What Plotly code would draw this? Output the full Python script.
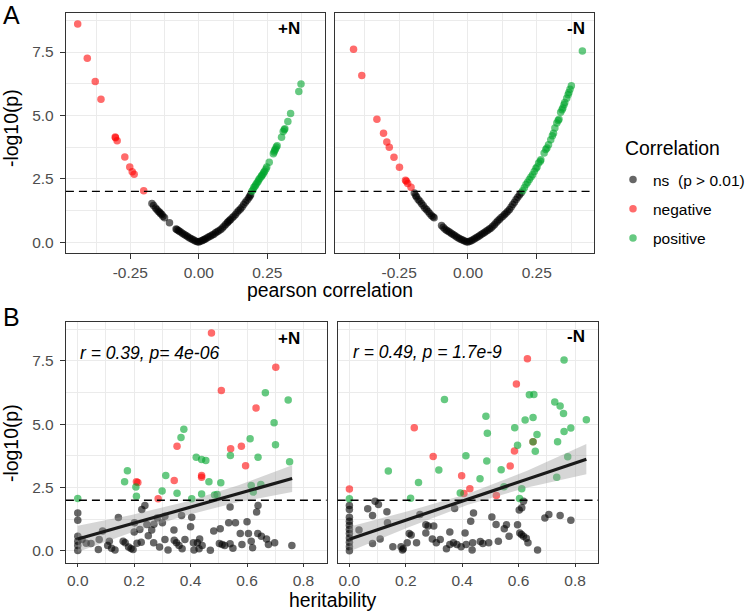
import plotly.graph_objects as go

W, H = 750, 613
FONT = "Liberation Sans, Arial, Helvetica, sans-serif"

# ---------------- Panel A, +N : pearson correlation vs -log10(p) ----------------
A_pN_ns_r = [-0.171, -0.165, -0.158, -0.153, -0.148, -0.143, -0.140, -0.135, -0.131, -0.125,
             -0.107, -0.083, -0.080, -0.075, -0.071, -0.065, -0.059, -0.053, -0.047, -0.041,
             -0.035, -0.029, -0.023, -0.017, -0.011, -0.005, 0.000,
             0.005, 0.011, 0.016, 0.020, 0.025, 0.031, 0.037, 0.043, 0.049, 0.055, 0.061,
             0.067, 0.073, 0.080, 0.086, 0.092, 0.098, 0.104, 0.107, 0.112, 0.116, 0.122,
             0.128, 0.134, 0.140, 0.146, 0.152, 0.158, 0.164, 0.170, 0.176, 0.182, 0.186, 0.189]
A_pN_ns_y = [1.52, 1.44, 1.35, 1.29, 1.22, 1.18, 1.13, 1.09, 1.02, 0.96,
             0.76, 0.52, 0.50, 0.46, 0.43, 0.39, 0.34, 0.30, 0.26, 0.22,
             0.17, 0.14, 0.10, 0.07, 0.03, 0.01, 0.00,
             0.03, 0.05, 0.08, 0.10, 0.13, 0.17, 0.21, 0.24, 0.28, 0.31, 0.37,
             0.41, 0.45, 0.50, 0.56, 0.63, 0.69, 0.76, 0.80, 0.85, 0.89, 0.96,
             1.02, 1.09, 1.18, 1.25, 1.31, 1.39, 1.48, 1.57, 1.65, 1.74, 1.81, 1.87]
A_pN_neg_r = [-0.442, -0.407, -0.378, -0.357, -0.305, -0.304, -0.298, -0.270, -0.252, -0.243, -0.236, -0.201]
A_pN_neg_y = [8.61, 7.25, 6.34, 5.64, 4.15, 4.12, 4.00, 3.36, 2.96, 2.78, 2.68, 2.03]
A_pN_pos_r = [0.194, 0.198, 0.201, 0.205, 0.208, 0.212, 0.216, 0.219, 0.223, 0.228, 0.230,
              0.234, 0.237, 0.240, 0.245, 0.248, 0.257, 0.272, 0.275, 0.277, 0.280, 0.283,
              0.286, 0.302, 0.308, 0.312, 0.314, 0.325, 0.335, 0.365, 0.373]
A_pN_pos_y = [2.01, 2.07, 2.15, 2.20, 2.26, 2.33, 2.39, 2.46, 2.52, 2.59, 2.63,
              2.68, 2.75, 2.80, 2.88, 2.96, 3.15, 3.49, 3.56, 3.62, 3.67, 3.75,
              3.80, 4.14, 4.36, 4.43, 4.47, 4.76, 5.07, 5.94, 6.24]

# ---------------- Panel A, -N ----------------
A_mN_ns_r = [-0.195, -0.190, -0.187, -0.181, -0.175, -0.169, -0.163, -0.157, -0.151, -0.145,
             -0.139, -0.133, -0.127, -0.123, -0.096, -0.090, -0.084, -0.078, -0.072, -0.066,
             -0.060, -0.054, -0.048, -0.042, -0.036, -0.030, -0.024, -0.018, -0.012, -0.006, 0.000,
             0.006, 0.012, 0.018, 0.024, 0.030, 0.036, 0.042, 0.048, 0.054, 0.060, 0.066,
             0.072, 0.078, 0.084, 0.090, 0.096, 0.102, 0.108, 0.114, 0.120, 0.127, 0.133,
             0.139, 0.145, 0.151, 0.157, 0.163, 0.169, 0.175, 0.181, 0.187, 0.193]
A_mN_ns_y = [1.94, 1.84, 1.78, 1.68, 1.61, 1.52, 1.44, 1.35, 1.29, 1.21,
             1.13, 1.05, 1.00, 0.96, 0.66, 0.59, 0.52, 0.47, 0.43, 0.39,
             0.34, 0.30, 0.26, 0.21, 0.17, 0.13, 0.10, 0.07, 0.04, 0.01, 0.00,
             0.03, 0.05, 0.09, 0.13, 0.17, 0.21, 0.25, 0.30, 0.34, 0.38, 0.43,
             0.47, 0.52, 0.56, 0.63, 0.68, 0.76, 0.83, 0.89, 0.96, 1.02, 1.09,
             1.15, 1.22, 1.29, 1.39, 1.48, 1.57, 1.68, 1.77, 1.86, 1.94]
A_mN_neg_r = [-0.416, -0.386, -0.331, -0.307, -0.295, -0.286, -0.269, -0.249, -0.227, -0.224, -0.219, -0.207]
A_mN_neg_y = [7.61, 6.57, 4.85, 4.30, 3.95, 3.74, 3.35, 2.95, 2.44, 2.40, 2.31, 2.16]
A_mN_pos_r = [0.199, 0.205, 0.211, 0.217, 0.223, 0.229, 0.235, 0.241, 0.247, 0.251, 0.257,
              0.263, 0.265, 0.277, 0.283, 0.287, 0.293, 0.301, 0.307, 0.311, 0.316, 0.323,
              0.328, 0.331, 0.337, 0.342, 0.345, 0.349, 0.352, 0.359, 0.364, 0.367, 0.371,
              0.376, 0.416]
A_mN_pos_y = [2.03, 2.14, 2.27, 2.36, 2.47, 2.57, 2.66, 2.79, 2.90, 2.96, 3.12,
              3.19, 3.25, 3.52, 3.65, 3.71, 3.84, 4.04, 4.20, 4.30, 4.50, 4.70,
              4.80, 4.85, 5.12, 5.22, 5.29, 5.42, 5.51, 5.68, 5.81, 5.90, 6.03,
              6.17, 7.54]

# ---------------- Panel B, +N : heritability vs -log10(p) ----------------
B_pN_ns_h = [0.0, 0.0, 0.0, 0.0, 0.0, 0.0, 0.015, 0.047, 0.073, 0.076, 0.088, 0.106, 0.112,
             0.132, 0.144, 0.161, 0.168, 0.189, 0.196, 0.200, 0.201, 0.220, 0.225, 0.227,
             0.238, 0.245, 0.262, 0.269, 0.282, 0.300, 0.309, 0.309, 0.320, 0.341, 0.342,
             0.350, 0.359, 0.368, 0.400, 0.404, 0.410, 0.424, 0.432, 0.441, 0.412, 0.482,
             0.505, 0.512, 0.521, 0.535, 0.540, 0.540, 0.559, 0.576, 0.582, 0.600, 0.605,
             0.615, 0.634, 0.639, 0.638, 0.651, 0.669, 0.676, 0.698, 0.759, 0.502,
             0.030, 0.120, 0.180, 0.210, 0.250, 0.290, 0.370, 0.430, 0.470, 0.550, 0.620,
             0.270, 0.380]
B_pN_ns_y = [1.50, 1.21, 0.58, 0.38, 0.21, 0.01, 0.45, 0.29, 0.05, 0.45, 0.78, 0.21, 0.38,
             0.03, 1.32, 0.38, 0.32, 0.09, 0.05, 0.74, 1.11, 0.84, 0.34, 1.63,
             1.79, 1.04, 0.82, 0.32, 1.30, 1.11, 1.37, 0.45, 0.03, 0.82, 0.42,
             0.32, 0.21, 1.40, 0.95, 1.33, 0.32, 0.32, 0.47, 0.21, 0.03, 0.78,
             0.87, 0.25, 0.21, 1.11, 1.73, 0.28, 1.11, 0.69, 0.25, 1.15, 0.69,
             0.38, 1.53, 1.79, 0.69, 0.58, 0.47, 0.25, 0.32, 0.21, 0.29,
             0.30, 0.10, 0.15, 0.30, 0.60, 0.15, 0.08, 0.08, 0.02, 0.10, 0.12,
             1.05, 0.45]
B_pN_neg_h = [0.474, 0.702, 0.509, 0.632, 0.352, 0.542, 0.580, 0.595, 0.208, 0.213, 0.439, 0.439, 0.342, 0.285]
B_pN_neg_y = [8.61, 7.25, 6.33, 5.64, 4.13, 4.03, 4.13, 3.36, 2.73, 2.70, 2.98, 2.91, 2.78, 2.06]
B_pN_pos_h = [0.000, 0.176, 0.166, 0.206, 0.208, 0.312, 0.299, 0.352, 0.366, 0.376, 0.420,
              0.439, 0.454, 0.404, 0.439, 0.465, 0.485, 0.494, 0.507, 0.541, 0.611, 0.639,
              0.615, 0.622, 0.649, 0.665, 0.696, 0.701, 0.746, 0.751]
B_pN_pos_y = [2.07, 3.16, 2.73, 2.52, 2.16, 2.98, 2.36, 2.28, 4.48, 4.80, 3.70,
              3.61, 3.57, 2.06, 2.25, 2.73, 2.21, 2.23, 2.69, 3.77, 4.43, 3.70,
              2.58, 2.32, 2.62, 6.25, 5.06, 4.19, 5.96, 3.52]
# linear fit with confidence band
B_pN_fit_h = [0.00, 0.19, 0.38, 0.57, 0.76]
B_pN_fit_y = [0.47, 1.07, 1.66, 2.26, 2.86]
B_pN_fit_lo = [-0.05, 0.72, 1.39, 1.93, 2.32]
B_pN_fit_hi = [0.99, 1.42, 1.93, 2.59, 3.38]

# ---------------- Panel B, -N ----------------
B_mN_ns_h = [0.0, 0.0, 0.0, 0.0, 0.0, 0.0, 0.0, 0.0, 0.0, 0.0, 0.0,
             0.034, 0.065, 0.082, 0.082, 0.091, 0.103, 0.109, 0.133, 0.135, 0.154,
             0.183, 0.188, 0.191, 0.205, 0.212, 0.219, 0.238, 0.250, 0.271, 0.279, 0.271,
             0.294, 0.308, 0.322, 0.299, 0.344, 0.356, 0.369, 0.381, 0.356, 0.373, 0.396,
             0.410, 0.414, 0.430, 0.440, 0.435, 0.437, 0.464, 0.473, 0.494, 0.505, 0.520,
             0.528, 0.549, 0.557, 0.566, 0.596, 0.602, 0.611, 0.617, 0.604, 0.610, 0.617,
             0.633, 0.627, 0.667, 0.693, 0.707, 0.747, 0.785]
B_mN_ns_y = [1.79, 1.63, 1.33, 1.17, 1.01, 0.84, 0.69, 0.51, 0.34, 0.16, 0.00,
             0.82, 1.66, 1.40, 0.29, 1.96, 1.83, 0.47, 1.54, 1.11, 0.16,
             0.16, 0.03, 0.08, 0.32, 0.69, 0.63, 0.32, 1.44, 1.03, 0.98, 0.71,
             0.47, 0.32, 0.45, 0.98, 0.08, 0.25, 0.32, 0.25, 0.74, 1.67, 0.16,
             0.71, 0.25, 1.17, 1.50, 0.03, 0.32, 0.37, 0.29, 0.32, 1.34, 1.04,
             0.38, 0.87, 1.03, 0.58, 1.03, 1.61, 1.70, 1.96, 0.71, 0.65, 0.58,
             0.32, 0.50, 0.03, 1.30, 1.44, 1.40, 1.21]
B_mN_neg_h = [0.000, 0.631, 0.592, 0.230, 0.297, 0.398, 0.427, 0.406, 0.521, 0.570, 0.585, 0.651]
B_mN_neg_y = [2.44, 7.59, 6.59, 4.86, 3.73, 2.97, 2.45, 2.27, 2.19, 3.35, 3.94, 4.31]
B_mN_pos_h = [0.000, 0.138, 0.245, 0.217, 0.317, 0.337, 0.393, 0.413, 0.463, 0.484, 0.489,
              0.487, 0.538, 0.548, 0.586, 0.596, 0.611, 0.603, 0.623, 0.638, 0.654, 0.651,
              0.659, 0.665, 0.728, 0.747, 0.759, 0.761, 0.761, 0.785, 0.738, 0.774, 0.735,
              0.840, 0.651]
B_mN_pos_y = [2.06, 3.15, 2.70, 2.08, 3.19, 5.98, 2.29, 3.76, 2.85, 5.32, 4.65,
              3.55, 3.20, 2.53, 4.86, 4.17, 2.45, 2.07, 5.17, 6.17, 6.18, 5.27,
              3.93, 4.60, 5.88, 5.72, 5.43, 7.54, 4.71, 4.85, 4.31, 3.72, 2.91,
              5.18, 4.31]
B_mN_fit_h = [0.00, 0.21, 0.42, 0.63, 0.84]
B_mN_fit_y = [0.46, 1.25, 2.04, 2.83, 3.62]
B_mN_fit_lo = [-0.03, 0.93, 1.82, 2.50, 3.03]
B_mN_fit_hi = [0.95, 1.57, 2.26, 3.16, 4.22]

# ---------------- labels ----------------
categories = ["ns", "negative", "positive"]
legend_labels = ["ns  (p > 0.01)", "negative", "positive"]
legend_title = "Correlation"
A_xticks = [-0.25, 0.0, 0.25]
A_xticktext = ["-0.25", "0.00", "0.25"]
B_xticks = [0.0, 0.2, 0.4, 0.6, 0.8]
B_xticktext = ["0.0", "0.2", "0.4", "0.6", "0.8"]
yticks = [0.0, 2.5, 5.0, 7.5]
yticktext = ["0.0", "2.5", "5.0", "7.5"]
threshold = 2.0
facet_labels = ["+N", "-N"]
stat_labels = ["r = 0.39, p= 4e-06", "r = 0.49, p = 1.7e-9"]

COLORS = {"ns": "rgba(0,0,0,0.6)", "negative": "rgba(255,0,0,0.58)",
          "positive": "rgba(0,165,45,0.6)"}
GRID = "#EBEBEB"
BORDER = "#333333"
TICKC = "#4D4D4D"


def px(x):
    return x / W


def py(y):
    return 1 - y / H


fig = go.Figure()

panels = [
    ("x", "y", {"ns": (A_pN_ns_r, A_pN_ns_y), "negative": (A_pN_neg_r, A_pN_neg_y),
                "positive": (A_pN_pos_r, A_pN_pos_y)}, None, True),
    ("x2", "y2", {"ns": (A_mN_ns_r, A_mN_ns_y), "negative": (A_mN_neg_r, A_mN_neg_y),
                  "positive": (A_mN_pos_r, A_mN_pos_y)}, None, False),
    ("x3", "y3", {"ns": (B_pN_ns_h, B_pN_ns_y), "negative": (B_pN_neg_h, B_pN_neg_y),
                  "positive": (B_pN_pos_h, B_pN_pos_y)},
     (B_pN_fit_h, B_pN_fit_y, B_pN_fit_lo, B_pN_fit_hi), False),
    ("x4", "y4", {"ns": (B_mN_ns_h, B_mN_ns_y), "negative": (B_mN_neg_h, B_mN_neg_y),
                  "positive": (B_mN_pos_h, B_mN_pos_y)},
     (B_mN_fit_h, B_mN_fit_y, B_mN_fit_lo, B_mN_fit_hi), False),
]

for xa, ya, data, fit, show in panels:
    for cat, lab in zip(categories, legend_labels):
        xs, ys = data[cat]
        fig.add_trace(go.Scatter(
            x=xs, y=ys, mode="markers", xaxis=xa, yaxis=ya,
            marker=dict(color=COLORS[cat], size=7.5, line=dict(width=0)),
            name=lab, legendgroup=cat, showlegend=show))
    if fit is not None:
        fh, fy, flo, fhi = fit
        fig.add_trace(go.Scatter(
            x=list(fh) + list(fh)[::-1], y=list(fhi) + list(flo)[::-1],
            mode="lines", fill="toself", fillcolor="rgba(153,153,153,0.4)",
            line=dict(width=0), xaxis=xa, yaxis=ya, showlegend=False, hoverinfo="skip"))
        fig.add_trace(go.Scatter(
            x=fh, y=fy, mode="lines", line=dict(color="#1a1a1a", width=3.2),
            xaxis=xa, yaxis=ya, showlegend=False))
    fig.add_shape(type="line", xref=xa + " domain", yref=ya, x0=0, x1=1,
                  y0=threshold, y1=threshold,
                  line=dict(color="black", width=1.4, dash="8px,5px"))

common = dict(showline=True, mirror=True, linecolor=BORDER, linewidth=1.2,
              showgrid=True, gridcolor=GRID, gridwidth=1.3, zeroline=False,
              tickfont=dict(family=FONT, size=15.5, color=TICKC),
              ticks="outside", ticklen=5, tickwidth=1.1, tickcolor=BORDER,
              tickmode="array")

A_xrange = [-0.485, 0.459]
B_xrange = [-0.042, 0.882]
A_yrange = [-0.43, 9.04]
B_yrange = [-0.48, 9.04]

dA1 = [px(66), px(325)]
dA2 = [px(335), px(595)]
dB1 = [px(66), px(327)]
dB2 = [px(338), px(599)]
dyA = [py(253), py(13)]
dyB = [py(563), py(322)]

minorA_x = dict(tickvals=[-0.375, -0.125, 0.125, 0.375], showgrid=True, gridcolor=GRID,
                gridwidth=0.65, ticks="")
minorB_x = dict(tickvals=[0.1, 0.3, 0.5, 0.7], showgrid=True, gridcolor=GRID,
                gridwidth=0.65, ticks="")
minor_y = dict(tickvals=[1.25, 3.75, 6.25, 8.75], showgrid=True, gridcolor=GRID,
               gridwidth=0.65, ticks="")

fig.update_layout(
    xaxis=dict(common, domain=dA1, range=A_xrange, tickvals=A_xticks, ticktext=A_xticktext,
               anchor="y", minor=minorA_x, ticklabelstandoff=0),
    xaxis2=dict(common, domain=dA2, range=A_xrange, tickvals=A_xticks, ticktext=A_xticktext,
                anchor="y2", minor=minorA_x, ticklabelstandoff=0),
    xaxis3=dict(common, domain=dB1, range=B_xrange, tickvals=B_xticks, ticktext=B_xticktext,
                anchor="y3", minor=minorB_x, ticklabelstandoff=0, ticklen=3),
    xaxis4=dict(common, domain=dB2, range=B_xrange, tickvals=B_xticks, ticktext=B_xticktext,
                anchor="y4", minor=minorB_x, ticklabelstandoff=0, ticklen=3),
    yaxis=dict(common, domain=dyA, range=A_yrange, tickvals=yticks, ticktext=yticktext,
               anchor="x", minor=minor_y, ticklabelstandoff=3),
    yaxis2=dict(common, domain=dyA, range=A_yrange, tickvals=yticks, ticktext=yticktext,
                anchor="x2", minor=minor_y, showticklabels=False, ticks=""),
    yaxis3=dict(common, domain=dyB, range=B_yrange, tickvals=yticks, ticktext=yticktext,
                anchor="x3", minor=minor_y, ticklabelstandoff=3),
    yaxis4=dict(common, domain=dyB, range=B_yrange, tickvals=yticks, ticktext=yticktext,
                anchor="x4", minor=minor_y, showticklabels=False, ticks=""),
)

ann = []
# panel letters
ann.append(dict(text="A", x=px(1), y=py(15), xanchor="left", yanchor="middle",
                font=dict(size=25, color="black")))
ann.append(dict(text="B", x=px(1), y=py(317), xanchor="left", yanchor="middle",
                font=dict(size=25, color="black")))
# facet labels
for (cx, cy), lab in zip([(289, 29), (577, 29), (289, 338), (577, 336)],
                         facet_labels + facet_labels):
    ann.append(dict(text="<b>" + lab + "</b>", x=px(cx), y=py(cy), xanchor="center",
                    yanchor="middle", font=dict(size=17, color="black")))
# statistics
for (lx, cy), lab in zip([(78, 353), (351, 352)], stat_labels):
    ann.append(dict(text="<i>" + lab + "</i>", x=px(lx), y=py(cy), xanchor="left",
                    yanchor="middle", font=dict(size=17.5, color="black")))
# axis titles
ann.append(dict(text="pearson correlation", x=px(330), y=py(290), xanchor="center",
                yanchor="middle", font=dict(size=19.4, color="black")))
ann.append(dict(text="heritability", x=px(333), y=py(600), xanchor="center",
                yanchor="middle", font=dict(size=19.4, color="black")))
ann.append(dict(text="-log10(p)", x=px(11), y=py(128), xanchor="center", yanchor="middle",
                textangle=-90, font=dict(size=19.4, color="black")))
ann.append(dict(text="-log10(p)", x=px(11), y=py(443), xanchor="center", yanchor="middle",
                textangle=-90, font=dict(size=19.4, color="black")))
# legend title
ann.append(dict(text=legend_title, x=px(624), y=py(148), xanchor="left", yanchor="middle",
                font=dict(size=19.4, color="black")))
for a in ann:
    a.update(xref="paper", yref="paper", showarrow=False)

fig.update_layout(
    annotations=ann,
    width=W, height=H,
    margin=dict(l=0, r=0, t=0, b=0),
    paper_bgcolor="white", plot_bgcolor="white",
    font=dict(family=FONT, color="black"),
    showlegend=True,
    legend=dict(x=px(614), y=py(163), xanchor="left", yanchor="top",
                font=dict(size=15.5, color="black"), tracegroupgap=6,
                bgcolor="rgba(0,0,0,0)"),
)

fig.write_html("out.html", config={"displayModeBar": False},
               post_script="document.body.style.margin='0px';")
